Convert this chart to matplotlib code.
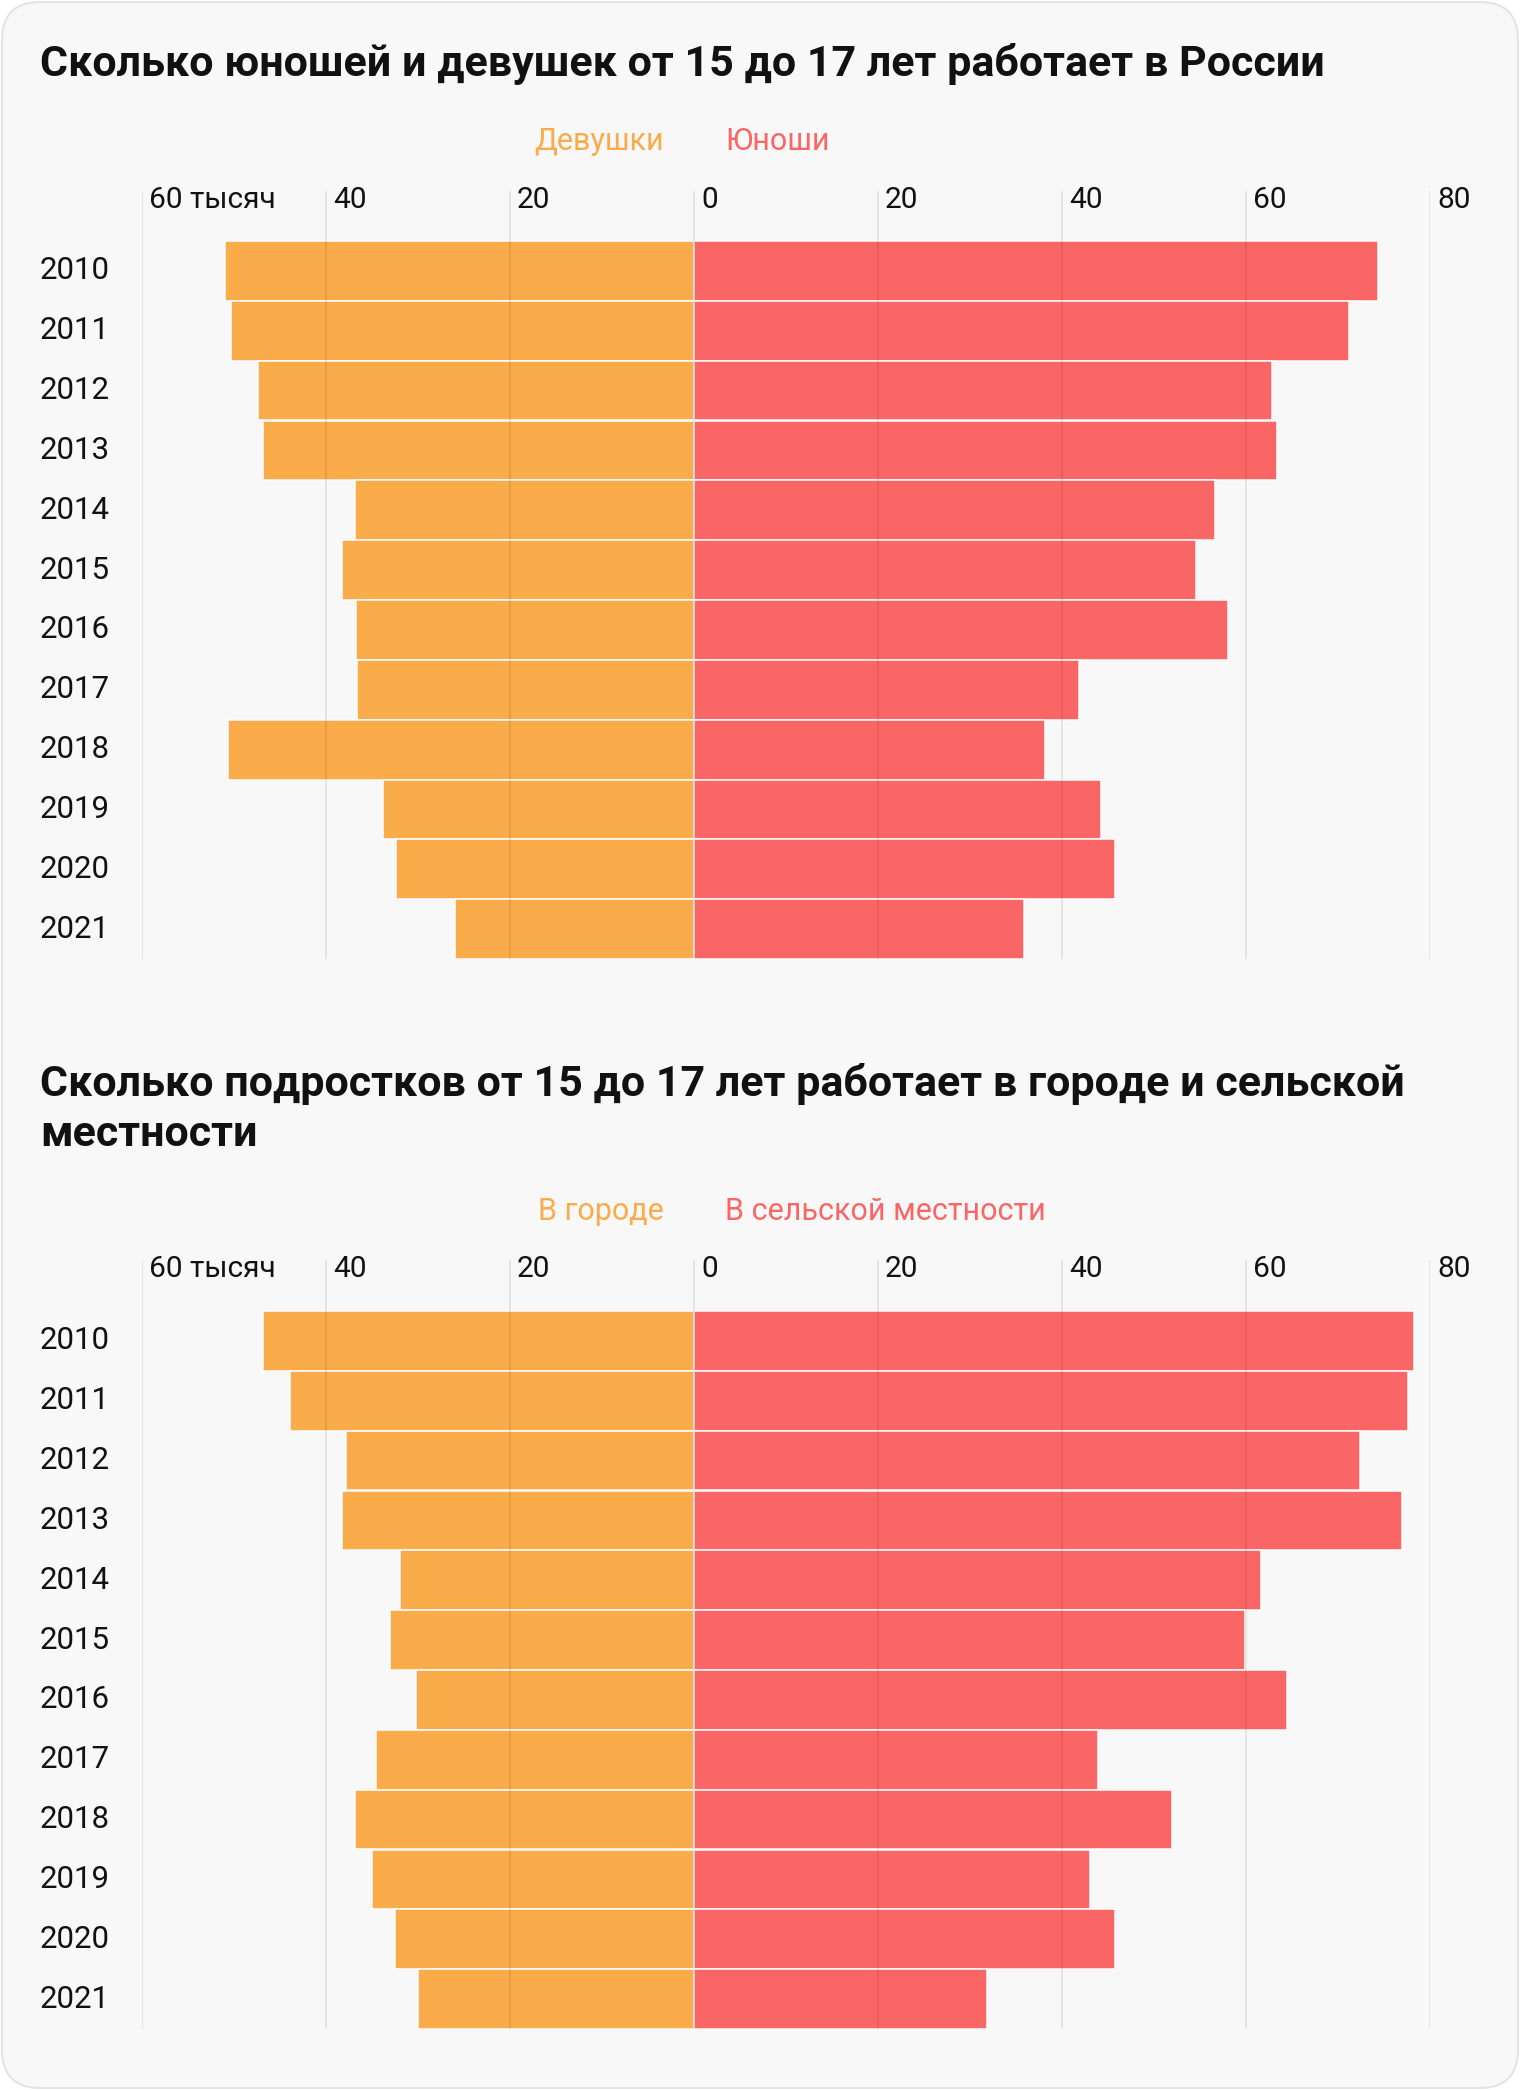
import matplotlib
matplotlib.use("Agg")
import matplotlib.pyplot as plt
import matplotlib.transforms as mtransforms
from matplotlib.patches import FancyBboxPatch

plt.rcParams["font.family"] = ["Roboto", "DejaVu Sans"]

years = ["2010", "2011", "2012", "2013", "2014", "2015",
         "2016", "2017", "2018", "2019", "2020", "2021"]

# тысяч человек
girls = [51.0, 50.3, 47.4, 46.8, 36.9, 38.3, 36.7, 36.6, 50.7, 33.8, 32.4, 26.0]
boys = [74.3, 71.2, 62.8, 63.4, 56.6, 54.6, 58.0, 41.9, 38.2, 44.2, 45.8, 35.9]

city = [46.9, 43.9, 37.8, 38.3, 32.0, 33.0, 30.2, 34.6, 36.9, 35.0, 32.5, 30.0]
rural = [78.3, 77.6, 72.4, 77.0, 61.6, 59.9, 64.5, 43.9, 52.0, 43.0, 45.8, 31.9]

ticks = [-60, -40, -20, 0, 20, 40, 60, 80]
tick_labels = ["60 тысяч", "40", "20", "0", "20", "40", "60", "80"]

ORANGE = "#FAAB4A"
RED = "#FA6666"
BG = "#F8F8F8"

W, H = 1520, 2090
fig = plt.figure(figsize=(W / 100, H / 100), dpi=100)
fig.patch.set_facecolor("white")

card = FancyBboxPatch((2 / W, 2 / H), 1 - 4 / W, 1 - 4 / H,
                      boxstyle="round,pad=0,rounding_size=0.025",
                      transform=fig.transFigure, facecolor=BG,
                      edgecolor="#E4E4E4", linewidth=1.5,
                      mutation_aspect=W / H, zorder=-10)
fig.patches.append(card)


def fy(y):
    return 1 - y / H


def chart(left_vals, right_vals, top, bar_top, bottom, label_y,
          legend_y, legend_left, legend_right):
    ax = fig.add_axes([142 / W, fy(bottom), 1288 / W, (bottom - top) / H])
    ax.set_facecolor("none")
    ax.set_xlim(-60, 80)
    upp = 12 / (bottom - bar_top)
    ax.set_ylim(11.5, -0.5 - (bar_top - top) * upp)
    pos = list(range(len(years)))
    neg = [-v for v in left_vals]
    ax.barh(pos, neg, height=1, color=ORANGE, edgecolor="#FDFDFD",
            linewidth=1.1, zorder=2)
    ax.barh(pos, right_vals, height=1, color=RED, edgecolor="#FDFDFD",
            linewidth=1.1, zorder=2)
    for t in ticks:
        ax.axvline(t, color="black", alpha=0.085, linewidth=1.3, zorder=3)
    ax.axis("off")

    tr = mtransforms.blended_transform_factory(ax.transData, fig.transFigure)
    tr = tr + mtransforms.ScaledTranslation(7 / 100, 0, fig.dpi_scale_trans)
    for t, lab in zip(ticks, tick_labels):
        ax.text(t, fy(label_y), lab, transform=tr, ha="left", va="center",
                fontsize=21.5, color="#111111")

    ytr = mtransforms.blended_transform_factory(fig.transFigure, ax.transData)
    for i, yr in enumerate(years):
        ax.text(40 / W, i, yr, transform=ytr, ha="left", va="center",
                fontsize=22.5, color="#111111")

    ltr = mtransforms.blended_transform_factory(ax.transData, fig.transFigure)
    off_l = ltr + mtransforms.ScaledTranslation(-30 / 100, 0, fig.dpi_scale_trans)
    off_r = ltr + mtransforms.ScaledTranslation(31 / 100, 0, fig.dpi_scale_trans)
    ax.text(0, fy(legend_y), legend_left, transform=off_l, ha="right",
            va="center", fontsize=22, color=ORANGE)
    ax.text(0, fy(legend_y), legend_right, transform=off_r, ha="left",
            va="center", fontsize=22, color=RED)
    return ax


title_kw = dict(ha="left", va="center", fontsize=31, fontweight="bold",
                color="#111111")
fig.text(40 / W, fy(64), "Сколько юношей и девушек от 15 до 17 лет работает в России",
         **title_kw)
chart(girls, boys, 191, 241, 959, 200, 142, "Девушки", "Юноши")

fig.text(40 / W, fy(1084), "Сколько подростков от 15 до 17 лет работает в городе и сельской",
         **title_kw)
fig.text(40 / W, fy(1135), "местности", **title_kw)
chart(city, rural, 1260, 1311, 2029, 1269, 1211, "В городе", "В сельской местности")

fig.savefig("out.png", dpi=100, facecolor=fig.get_facecolor())
